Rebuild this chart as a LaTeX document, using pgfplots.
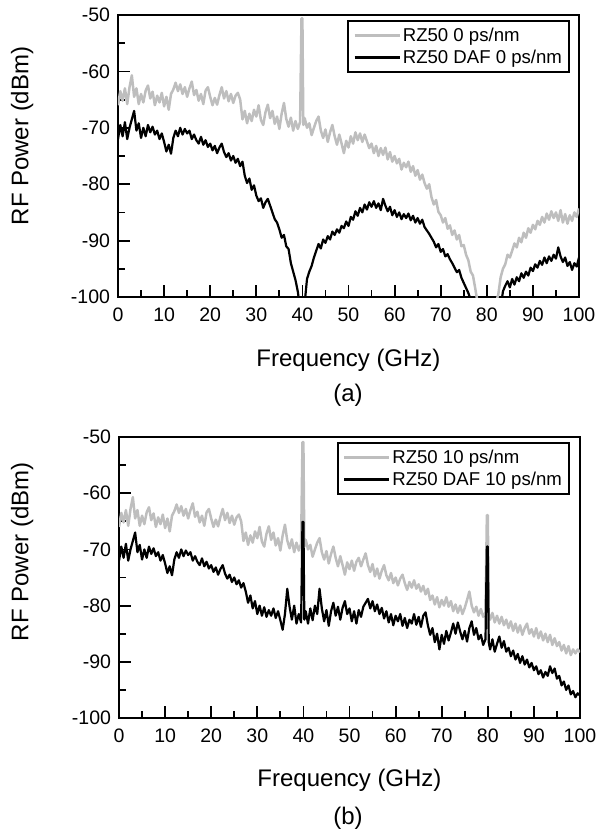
\documentclass[border=0pt]{standalone}
\usepackage{fontspec}
\setmainfont{Liberation Sans}
\usepackage{pgfplots}
\pgfplotsset{compat=1.18}
\definecolor{lgray}{RGB}{190,190,190}
\pgfplotsset{
  rfstyle/.style={
    scale only axis, width=461pt,
    xmin=0,xmax=100,ymin=-100,ymax=-50,
    xtick={0,10,...,100}, minor xtick={5,15,...,95},
    ytick={-100,-90,...,-50}, minor ytick={-95,-85,...,-55},
    tick pos=left, tick align=inside,
    major tick length=12pt, minor tick length=7pt,
    every tick/.style={black, line width=1.8pt},
    axis line style={line width=2.3pt},
    /pgf/number format/assume math mode=true,
    ticklabel style={font=\fontsize{19.5}{20}\selectfont},
    xticklabel style={yshift=-7pt},
    yticklabel style={xshift=-4.5pt},
    label style={font=\fontsize{24}{26}\selectfont},
    xlabel={Frequency (GHz)},
    ylabel={RF Power (dBm)},
    legend style={font=\fontsize{18.6}{20}\selectfont, draw=black, line width=2pt, anchor=north east, inner xsep=5pt, inner ysep=5pt, row sep=3pt, cells={anchor=west}},
    legend image code/.code={\draw[#1] (0pt,0pt) -- (45pt,0pt);},
    gl/.style={color=lgray, line width=2.5pt, line join=round},
    bl/.style={color=black, line width=2.2pt, line join=round},
  }
}
\begin{document}
\begin{tikzpicture}
\path[use as bounding box] (0pt,0pt) rectangle (597pt,-835pt);
% ---------------- panel (a)
\begin{axis}[rfstyle, height=282pt, at={(118pt,-297pt)}, anchor=south west,
  xlabel style={at={(axis description cs:0.5,-0.223)},anchor=center},
  ylabel style={at={(axis description cs:-0.208,0.571)},anchor=center},
  legend style={at={(rel axis cs:0.9805,0.982)}}]
\addplot[gl] coordinates {
(0,-66.0)(0.5,-63.5)(1,-65.2)(1.5,-63.0)(2,-65.8)(2.5,-62.8)(3,-60.7)(3.5,-64.5)(4,-63.0)(4.5,-65.8)
(5,-64.0)(5.5,-65.5)(6,-63.4)(6.5,-62.5)(7,-64.8)(7.5,-63.6)(8,-66.0)(8.5,-64.3)(9,-65.5)(9.5,-63.8)
(10,-66.2)(10.5,-64.5)(11,-66.8)(11.5,-64.0)(12,-63.2)(12.5,-62.0)(13,-63.5)(13.5,-62.3)(14,-64.0)(14.5,-62.8)
(15,-64.5)(15.5,-63.0)(16,-61.8)(16.5,-64.2)(17,-63.3)(17.5,-65.2)(18,-64.0)(18.5,-65.8)(19,-63.4)(19.5,-62.8)
(20,-64.5)(20.5,-66.0)(21,-64.7)(21.5,-65.9)(22,-64.2)(22.5,-62.8)(23,-64.8)(23.5,-63.5)(24,-65.3)(24.5,-64.0)
(25,-65.6)(25.5,-64.3)(26,-63.8)(26.5,-65.0)(27,-68.5)(27.5,-67.0)(28,-69.2)(28.5,-67.5)(29,-68.8)(29.5,-66.8)
(30,-68.0)(30.5,-66.0)(31,-68.6)(31.5,-69.5)(32,-67.2)(32.5,-65.9)(33,-68.3)(33.5,-67.0)(34,-69.3)(34.5,-68.0)
(35,-70.2)(35.5,-67.5)(36,-65.6)(36.5,-68.4)(37,-69.8)(37.5,-68.2)(38,-70.5)(38.5,-68.8)(39,-70.2)(39.5,-69.0)
(39.8,-50.6)(40.0,-50.6)(40.2,-69.5)
(40.5,-68.3)(41,-70.0)(41.5,-69.2)(42,-71.3)(42.5,-70.0)(43,-68.8)(43.5,-68.0)(44,-70.5)(44.5,-71.8)
(45,-70.3)(45.5,-72.5)(46,-70.8)(46.5,-69.5)(47,-71.5)(47.5,-73.0)(48,-71.2)(48.5,-72.8)(49,-74.5)(49.5,-72.3)
(50,-73.5)(50.5,-71.5)(51,-72.8)(51.5,-70.8)(52,-72.2)(52.5,-71.0)(53,-72.5)(53.5,-71.2)(54,-72.4)(54.5,-73.6)
(55,-72.8)(55.5,-74.5)(56,-73.2)(56.5,-75.0)(57,-73.6)(57.5,-74.8)(58,-73.5)(58.5,-75.6)(59,-74.3)(59.5,-76.0)
(60,-75.0)(60.5,-76.3)(61,-75.5)(61.5,-77.4)(62,-76.2)(62.5,-77.0)(63,-76.0)(63.5,-77.8)(64,-76.8)(64.5,-78.5)
(65,-77.5)(65.5,-79.2)(66,-78.3)(66.5,-79.8)(67,-80.8)(67.5,-80.0)(68,-82.3)(68.5,-83.6)(69,-82.8)(69.5,-84.9)
(70,-85.5)(70.5,-86.8)(71,-86.0)(71.5,-87.9)(72,-87.3)(72.5,-89.0)(73,-88.2)(73.5,-89.8)(74,-89.0)(74.5,-91.0)
(75,-90.8)(75.5,-92.5)(76,-93.5)(76.5,-95.5)(77,-96.2)(77.5,-98.5)(78,-101)(78.5,-102)(79,-103)(79.5,-102)
(80,-103)(80.5,-102)(81,-103)(81.5,-102)(82,-101)(82.5,-99.5)(83,-96.5)(83.5,-95.0)(84,-94.2)(84.5,-92.5)
(85,-93.0)(85.5,-91.8)(86,-90.5)(86.5,-91.2)(87,-89.5)(87.5,-90.3)(88,-88.6)(88.5,-89.5)(89,-87.8)(89.5,-88.6)
(90,-87.2)(90.5,-88.0)(91,-86.5)(91.5,-87.2)(92,-85.8)(92.5,-86.8)(93,-85.2)(93.5,-86.3)(94,-84.8)(94.5,-86.0)
(95,-85.0)(95.5,-86.5)(96,-84.6)(96.5,-86.8)(97,-85.3)(97.5,-87.0)(98,-85.5)(98.5,-86.5)(99,-85.0)(99.5,-85.8)
(100,-84.3)};
\addlegendentry{RZ50 0 ps/nm}
\addplot[bl] coordinates {
(0,-72.0)(0.5,-69.5)(1,-71.5)(1.5,-69.0)(2,-72.0)(2.5,-70.0)(3,-68.5)(3.5,-67.0)(4,-70.5)(4.5,-69.2)
(5,-71.8)(5.5,-70.0)(6,-71.5)(6.5,-69.5)(7,-70.8)(7.5,-69.8)(8,-71.2)(8.5,-70.5)(9,-72.0)(9.5,-71.0)
(10,-72.5)(10.5,-74.2)(11,-73.0)(11.5,-74.6)(12,-71.8)(12.5,-70.5)(13,-71.5)(13.5,-70.0)(14,-71.2)(14.5,-70.2)
(15,-71.0)(15.5,-70.5)(16,-72.0)(16.5,-71.2)(17,-72.2)(17.5,-72.8)(18,-71.6)(18.5,-73.0)(19,-72.2)(19.5,-73.4)
(20,-72.8)(20.5,-74.0)(21,-73.2)(21.5,-74.5)(22,-73.5)(22.5,-72.8)(23,-74.3)(23.5,-75.2)(24,-74.5)(24.5,-75.8)
(25,-75.0)(25.5,-76.2)(26,-75.5)(26.5,-76.8)(27,-76.0)(27.5,-78.5)(28,-79.8)(28.5,-79.0)(29,-81.0)(29.5,-80.2)
(30,-82.0)(30.5,-83.0)(31,-82.5)(31.5,-84.2)(32,-83.2)(32.5,-82.6)(33,-83.8)(33.5,-85.0)(34,-86.2)(34.5,-86.8)
(35,-88.0)(35.5,-89.5)(36,-89.0)(36.5,-91.0)(37,-91.5)(37.5,-94.0)(38,-95.5)(38.5,-97.0)(39,-99.0)(39.5,-102)
(40,-103)(40.5,-101)(41,-96.8)(41.5,-95.5)(42,-94.5)(42.5,-93.0)(43,-91.8)(43.5,-90.6)(44,-91.4)(44.5,-89.8)
(45,-90.4)(45.5,-89.2)(46,-89.8)(46.5,-88.4)(47,-89.0)(47.5,-88.0)(48,-88.6)(48.5,-87.4)(49,-87.8)(49.5,-86.6)
(50,-87.4)(50.5,-85.8)(51,-86.3)(51.5,-84.8)(52,-85.6)(52.5,-84.2)(53,-85.0)(53.5,-83.6)(54,-84.5)(54.5,-83.2)
(55,-84.0)(55.5,-83.0)(56,-84.2)(56.5,-83.4)(57,-84.6)(57.5,-82.6)(58,-83.8)(58.5,-84.8)(59,-84.0)(59.5,-85.5)
(60,-84.6)(60.5,-85.8)(61,-85.0)(61.5,-86.2)(62,-85.3)(62.5,-86.0)(63,-85.2)(63.5,-86.4)(64,-85.6)(64.5,-86.8)
(65,-86.0)(65.5,-87.0)(66,-86.3)(66.5,-87.6)(67,-88.2)(67.5,-88.8)(68,-89.5)(68.5,-90.2)(69,-91.2)(69.5,-90.6)
(70,-92.0)(70.5,-91.5)(71,-92.8)(71.5,-92.4)(72,-93.3)(72.5,-94.0)(73,-94.8)(73.5,-95.6)(74,-95.2)(74.5,-96.6)
(75,-97.5)(75.5,-98.4)(76,-99.3)(76.5,-100.5)(77,-101.5)(77.5,-103)(78,-102)(78.5,-103)(79,-102)(79.5,-103)
(80,-102)(80.5,-103)(81,-102)(81.5,-103)(82,-102)(82.5,-103)(83,-102)(83.5,-99.0)(84,-98.0)(84.5,-97.2)
(85,-98.3)(85.5,-96.8)(86,-97.8)(86.5,-96.5)(87,-97.2)(87.5,-95.8)(88,-96.6)(88.5,-95.5)(89,-96.2)(89.5,-94.8)
(90,-95.4)(90.5,-94.2)(91,-94.8)(91.5,-93.6)(92,-94.3)(92.5,-93.0)(93,-94.0)(93.5,-92.8)(94,-93.6)(94.5,-92.5)
(95,-93.2)(95.5,-91.2)(96,-92.8)(96.5,-93.8)(97,-93.0)(97.5,-94.5)(98,-93.8)(98.5,-95.2)(99,-94.0)(99.5,-94.6)
(100,-93.0)};
\addlegendentry{RZ50 DAF 0 ps/nm}
\end{axis}
\node[font=\fontsize{24}{26}\selectfont] at (348pt,-395pt) {(a)};
% ---------------- panel (b)
\begin{axis}[rfstyle, height=281pt, at={(119pt,-718pt)}, anchor=south west,
  xlabel style={at={(axis description cs:0.5,-0.221)},anchor=center},
  ylabel style={at={(axis description cs:-0.21,0.591)},anchor=center},
  legend style={at={(rel axis cs:0.978,0.982)}}]
\addplot[gl] coordinates {
(0,-66.0)(0.5,-63.5)(1,-65.2)(1.5,-63.0)(2,-65.8)(2.5,-62.8)(3,-60.7)(3.5,-64.5)(4,-63.0)(4.5,-65.8)
(5,-64.0)(5.5,-65.5)(6,-63.4)(6.5,-62.5)(7,-64.8)(7.5,-63.6)(8,-66.0)(8.5,-64.3)(9,-65.5)(9.5,-63.8)
(10,-66.2)(10.5,-64.5)(11,-66.8)(11.5,-64.0)(12,-63.2)(12.5,-62.0)(13,-63.5)(13.5,-62.3)(14,-64.0)(14.5,-62.8)
(15,-64.5)(15.5,-63.0)(16,-61.8)(16.5,-64.2)(17,-63.3)(17.5,-65.2)(18,-64.0)(18.5,-65.8)(19,-63.4)(19.5,-62.8)
(20,-64.5)(20.5,-66.0)(21,-64.7)(21.5,-65.9)(22,-64.2)(22.5,-62.8)(23,-64.8)(23.5,-63.5)(24,-65.3)(24.5,-64.0)
(25,-65.6)(25.5,-64.3)(26,-63.8)(26.5,-65.0)(27,-68.5)(27.5,-67.0)(28,-69.2)(28.5,-67.5)(29,-68.8)(29.5,-66.8)
(30,-68.0)(30.5,-66.0)(31,-68.6)(31.5,-69.5)(32,-67.2)(32.5,-65.9)(33,-68.3)(33.5,-67.0)(34,-69.3)(34.5,-68.0)
(35,-70.2)(35.5,-67.5)(36,-65.6)(36.5,-68.4)(37,-69.8)(37.5,-68.2)(38,-70.5)(38.5,-68.8)(39,-70.2)(39.5,-69.0)
(39.8,-50.9)(40.0,-50.9)(40.2,-69.5)
(40.5,-68.3)(41,-70.0)(41.5,-69.2)(42,-71.3)(42.5,-70.0)(43,-68.8)(43.5,-68.0)(44,-70.5)(44.5,-71.8)
(45,-70.3)(45.5,-72.5)(46,-70.8)(46.5,-69.5)(47,-71.5)(47.5,-73.0)(48,-71.2)(48.5,-72.8)(49,-74.5)(49.5,-72.3)
(50,-73.5)(50.5,-72.0)(51,-73.8)(51.5,-72.2)(52,-71.5)(52.5,-73.0)(53,-71.8)(53.5,-70.7)(54,-72.8)(54.5,-74.0)
(55,-72.6)(55.5,-74.8)(56,-73.4)(56.5,-75.2)(57,-73.8)(57.5,-72.8)(58,-74.6)(58.5,-75.5)(59,-74.2)(59.5,-76.0)
(60,-75.0)(60.5,-76.4)(61,-75.2)(61.5,-74.5)(62,-76.0)(62.5,-77.2)(63,-75.8)(63.5,-76.8)(64,-75.5)(64.5,-77.0)
(65,-76.2)(65.5,-77.5)(66,-76.5)(66.5,-78.0)(67,-77.0)(67.5,-79.0)(68,-78.2)(68.5,-79.8)(69,-78.5)(69.5,-80.3)
(70,-79.0)(70.5,-80.0)(71,-78.5)(71.5,-80.2)(72,-79.2)(72.5,-81.0)(73,-79.8)(73.5,-81.3)(74,-80.0)(74.5,-81.5)
(75,-80.4)(75.5,-79.0)(76,-77.5)(76.5,-80.0)(77,-81.2)(77.5,-80.2)(78,-81.8)(78.5,-80.6)(79,-82.0)(79.5,-81.2)
(79.8,-63.9)(80.0,-63.9)(80.2,-81.5)
(80.5,-82.5)(81,-81.3)(81.5,-83.0)(82,-81.8)(82.5,-83.2)(83,-82.0)(83.5,-83.5)(84,-82.5)(84.5,-84.0)
(85,-82.8)(85.5,-84.5)(86,-83.2)(86.5,-84.8)(87,-83.5)(87.5,-85.2)(88,-84.0)(88.5,-83.2)(89,-85.0)(89.5,-84.2)
(90,-85.5)(90.5,-84.0)(91,-85.8)(91.5,-84.6)(92,-86.2)(92.5,-85.0)(93,-86.5)(93.5,-85.2)(94,-87.0)(94.5,-85.8)
(95,-87.2)(95.5,-86.5)(96,-88.0)(96.5,-87.0)(97,-88.5)(97.5,-87.2)(98,-88.8)(98.5,-87.8)(99,-88.5)(99.5,-87.8)
(100,-88.3)};
\addlegendentry{RZ50 10 ps/nm}
\addplot[bl] coordinates {
(0,-72.0)(0.5,-69.5)(1,-71.5)(1.5,-69.0)(2,-72.0)(2.5,-70.0)(3,-68.5)(3.5,-67.0)(4,-70.5)(4.5,-69.2)
(5,-71.8)(5.5,-70.0)(6,-71.5)(6.5,-69.5)(7,-70.8)(7.5,-69.8)(8,-71.2)(8.5,-70.5)(9,-72.0)(9.5,-71.0)
(10,-72.5)(10.5,-74.2)(11,-73.0)(11.5,-74.6)(12,-71.8)(12.5,-70.5)(13,-71.5)(13.5,-70.0)(14,-71.2)(14.5,-70.2)
(15,-71.0)(15.5,-70.5)(16,-72.0)(16.5,-71.2)(17,-72.2)(17.5,-72.8)(18,-71.6)(18.5,-73.0)(19,-72.2)(19.5,-73.4)
(20,-72.8)(20.5,-74.0)(21,-73.2)(21.5,-74.5)(22,-73.5)(22.5,-72.8)(23,-74.3)(23.5,-75.2)(24,-74.5)(24.5,-75.8)
(25,-75.0)(25.5,-76.2)(26,-75.5)(26.5,-76.8)(27,-76.0)(27.5,-77.5)(28,-79.5)(28.5,-78.2)(29,-80.5)(29.5,-79.2)
(30,-81.5)(30.5,-80.0)(31,-81.8)(31.5,-80.3)(32,-82.0)(32.5,-80.8)(33,-81.8)(33.5,-80.5)(34,-82.2)(34.5,-81.0)
(35,-82.6)(35.5,-84.3)(36,-81.5)(36.5,-77.0)(37,-80.2)(37.5,-82.5)(38,-80.0)(38.5,-83.2)(39,-81.5)(39.5,-83.0)
(39.8,-65.1)(40.0,-65.1)(40.2,-82.5)
(40.5,-81.0)(41,-83.2)(41.5,-80.5)(42,-82.6)(42.5,-80.0)(43,-81.5)(43.5,-77.0)(44,-80.5)(44.5,-82.8)
(45,-80.8)(45.5,-83.6)(46,-81.0)(46.5,-79.5)(47,-81.8)(47.5,-80.2)(48,-82.5)(48.5,-80.4)(49,-79.2)(49.5,-81.5)
(50,-80.5)(50.5,-82.8)(51,-81.0)(51.5,-83.2)(52,-80.8)(52.5,-82.0)(53,-80.2)(53.5,-79.5)(54,-78.8)(54.5,-80.5)
(55,-79.2)(55.5,-81.0)(56,-79.8)(56.5,-81.5)(57,-80.4)(57.5,-82.3)(58,-81.0)(58.5,-83.0)(59,-81.5)(59.5,-83.5)
(60,-81.8)(60.5,-82.8)(61,-81.5)(61.5,-83.6)(62,-82.2)(62.5,-84.0)(63,-82.5)(63.5,-83.2)(64,-81.5)(64.5,-83.4)
(65,-82.0)(65.5,-83.8)(66,-81.8)(66.5,-81.2)(67,-83.5)(67.5,-85.2)(68,-84.0)(68.5,-86.5)(69,-85.0)(69.5,-87.8)
(70,-85.2)(70.5,-86.8)(71,-84.5)(71.5,-86.2)(72,-84.8)(72.5,-83.2)(73,-85.0)(73.5,-83.0)(74,-84.6)(74.5,-86.0)
(75,-84.5)(75.5,-86.4)(76,-84.0)(76.5,-82.8)(77,-85.2)(77.5,-84.0)(78,-86.0)(78.5,-85.2)(79,-87.0)(79.5,-86.0)
(79.8,-69.5)(80.0,-69.5)(80.2,-86.5)
(80.5,-87.8)(81,-86.0)(81.5,-88.2)(82,-86.8)(82.5,-85.5)(83,-87.5)(83.5,-86.3)(84,-88.2)(84.5,-87.5)
(85,-89.0)(85.5,-88.0)(86,-89.6)(86.5,-88.6)(87,-90.2)(87.5,-89.0)(88,-90.5)(88.5,-89.6)(89,-91.0)(89.5,-90.2)
(90,-91.5)(90.5,-90.8)(91,-92.2)(91.5,-91.5)(92,-92.8)(92.5,-91.8)(93,-92.5)(93.5,-90.8)(94,-92.0)(94.5,-91.2)
(95,-93.0)(95.5,-92.5)(96,-94.2)(96.5,-93.5)(97,-95.0)(97.5,-94.2)(98,-95.8)(98.5,-95.2)(99,-96.3)(99.5,-95.6)
(100,-96.0)};
\addlegendentry{RZ50 DAF 10 ps/nm}
\end{axis}
\node[font=\fontsize{24}{26}\selectfont] at (348pt,-818pt) {(b)};
\end{tikzpicture}
\end{document}
